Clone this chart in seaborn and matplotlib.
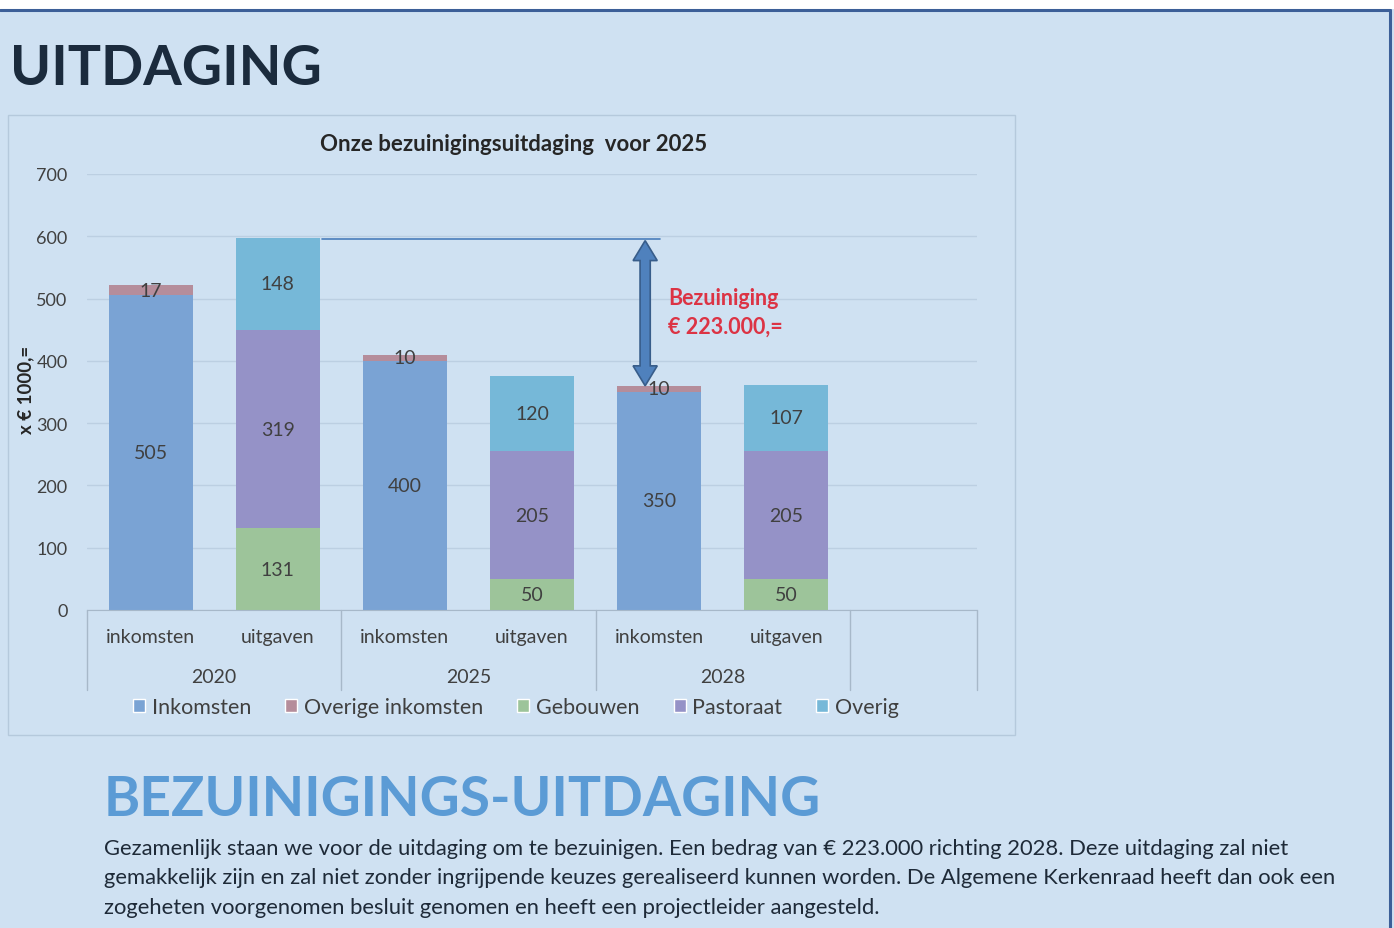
import pandas as pd
import matplotlib.pyplot as plt
from matplotlib.patches import Patch, Rectangle, Polygon
from matplotlib.lines import Line2D
import matplotlib.transforms as mtransforms
import seaborn as sns

# chart data (x 1000 euro)
years = ["2020", "2025", "2028"]
sides = ["inkomsten", "uitgaven"]
series = ["Inkomsten", "Overige inkomsten", "Gebouwen", "Pastoraat", "Overig"]
inkomsten = [505, 0, 400, 0, 350, 0]
overige_inkomsten = [17, 0, 10, 0, 10, 0]
gebouwen = [0, 131, 0, 50, 0, 50]
pastoraat = [0, 319, 0, 205, 0, 205]
overig = [0, 148, 0, 120, 0, 107]
yticks = [0, 100, 200, 300, 400, 500, 600, 700]
colors = ["#7aa3d4", "#b58d9b", "#9dc49a", "#9592c7", "#76b8d8"]

W, H = 1394, 929
BG = "#cfe1f2"
TXT = "#404040"

sns.set_style("white")
plt.rcParams["font.family"] = ["Lato", "DejaVu Sans"]


def px(x, y):
    return x / W, 1 - y / H


slots = [y + " " + s for y in years for s in sides]
df = pd.DataFrame({"slot": slots, "Inkomsten": inkomsten,
                   "Overige inkomsten": overige_inkomsten,
                   "Gebouwen": gebouwen, "Pastoraat": pastoraat,
                   "Overig": overig})
cum = df[series].cumsum(axis=1)

fig = plt.figure(figsize=(W / 100, H / 100), dpi=100, facecolor=BG)
ax = fig.add_axes([87 / W, 318 / H, 890 / W, 436 / H])
ax.set_facecolor("none")

# stacked bars: draw cumulative totals from top layer down
for name, color in reversed(list(zip(series, colors))):
    sns.barplot(data=df.assign(h=cum[name]), x="slot", y="h", order=slots,
                color=color, saturation=1, width=0.66, errorbar=None,
                linewidth=0, edgecolor="none", ax=ax)

# value labels in the middle of every segment
for i in range(len(slots)):
    bottom = 0
    for name in series:
        v = df[name][i]
        if v > 0:
            ax.text(i, bottom + v / 2, str(v), ha="center", va="center",
                    fontsize=14, color=TXT)
        bottom += v

ax.set_xlim(-0.5, len(slots) + 0.5)
ax.set_ylim(0, 700)
ax.set_yticks(yticks)
ax.set_xticks([])
ax.set_xlabel("")
ax.set_ylabel("")
ax.yaxis.grid(True, color="#bccfe2", lw=1)
ax.set_axisbelow(True)
for s in ["top", "right", "left"]:
    ax.spines[s].set_visible(False)
ax.spines["bottom"].set_color("#a7b8c9")
ax.tick_params(axis="y", length=0, pad=14, labelsize=13, labelcolor=TXT)

# multi level category axis
trans = mtransforms.blended_transform_factory(ax.transData, ax.transAxes)
for xb in [-0.5, 1.5, 3.5, 5.5, 6.5]:
    ax.add_line(Line2D([xb, xb], [0, -80 / 436], transform=trans,
                       color="#a7b8c9", lw=1, clip_on=False))
for i, s in enumerate(slots):
    ax.text(i, -27 / 436, s.split(" ")[1], transform=trans, ha="center",
            va="center", fontsize=14, color=TXT)
for j, y in enumerate(years):
    ax.text(2 * j + 0.5, -67 / 436, y, transform=trans, ha="center",
            va="center", fontsize=14, color=TXT)

# savings arrow between 2020 expenses and 2028 income
top = df[["Gebouwen", "Pastoraat", "Overig"]].sum(axis=1)[1]
low = df[["Inkomsten", "Overige inkomsten"]].sum(axis=1)[4]
ax.plot([1.35, 4.01], [top - 3, top - 3], color="#4a7ebb", lw=1.2)
xc = 3.89
bw, hw, hl = 0.04, 0.095, 32
ax.add_patch(Polygon([(xc, top - 5), (xc + hw, top - 5 - hl),
                      (xc + bw, top - 5 - hl), (xc + bw, low + hl),
                      (xc + hw, low + hl), (xc, low), (xc - hw, low + hl),
                      (xc - bw, low + hl), (xc - bw, top - 5 - hl),
                      (xc - hw, top - 5 - hl)],
                     closed=True, facecolor="#4f81bd", edgecolor="#385d8a",
                     lw=1.2, zorder=5))

fig.text(*px(668, 305), "Bezuiniging", color="#dc3344", fontsize=15.5,
         fontweight="bold", va="baseline")
fig.text(*px(668, 334), "€ 223.000,=", color="#dc3344", fontsize=15.5,
         fontweight="bold", va="baseline")

# chart title, y label and legend
fig.text(*px(514, 151), "Onze bezuinigingsuitdaging  voor 2025",
         ha="center", va="baseline", fontsize=16, fontweight="bold",
         color="#262626")
fig.text(*px(26, 390), "x € 1000,=", rotation=90, ha="center", va="center",
         fontsize=13.5, fontweight="bold", color="#262626")
handles = [Patch(facecolor=c, label=n) for n, c in zip(series, colors)]
fig.legend(handles=handles, loc="center", bbox_to_anchor=px(516, 708),
           ncol=5, frameon=False, fontsize=15.5, handlelength=0.55,
           handleheight=0.55, handletextpad=0.3, columnspacing=1.6,
           labelcolor=TXT)

# page decoration
fig.add_artist(Rectangle(px(8, 736), 1007 / W, 620 / H, fill=False,
                         edgecolor="#b5c9dc", lw=1, transform=fig.transFigure))
fig.add_artist(Rectangle(px(0, 10), 1, 10 / H, facecolor="white",
                         edgecolor="none", transform=fig.transFigure))
fig.add_artist(Line2D([0, 1390 / W], [1 - 10.5 / H] * 2, color="#3c5f98",
                      lw=2.2, transform=fig.transFigure))
fig.add_artist(Line2D([1389.5 / W] * 2, [0, 1 - 10.5 / H], color="#3c5f98",
                      lw=2.2, transform=fig.transFigure))

fig.text(*px(10, 85), "UITDAGING", fontsize=40, fontweight="bold",
         color="#1b2b3d", va="baseline")
fig.text(*px(104, 816), "BEZUINIGINGS-UITDAGING", fontsize=39.7,
         fontweight="bold", color="#5b9bd5", va="baseline")
para = ["Gezamenlijk staan we voor de uitdaging om te bezuinigen. Een bedrag "
        "van € 223.000 richting 2028. Deze uitdaging zal niet",
        "gemakkelijk zijn en zal niet zonder ingrijpende keuzes gerealiseerd "
        "kunnen worden. De Algemene Kerkenraad heeft dan ook een",
        "zogeheten voorgenomen besluit genomen en heeft een projectleider "
        "aangesteld."]
for k, line in enumerate(para):
    fig.text(*px(104, 855 + 29.5 * k), line, fontsize=15.8, color="#1e2a38",
             va="baseline")

fig.savefig("out.png", dpi=100, facecolor=BG)
